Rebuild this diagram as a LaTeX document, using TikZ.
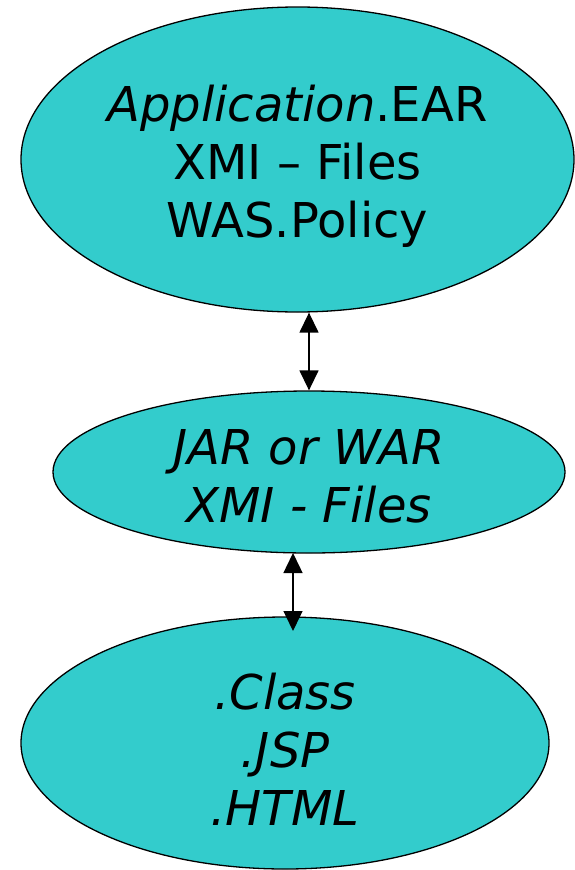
\documentclass[tikz,border=0pt]{standalone}
\usepackage{fontspec}
\setmainfont{DejaVu Sans}
\usetikzlibrary{shapes.geometric,arrows.meta}
\definecolor{tealfill}{HTML}{33CCCC}
\tikzset{
  blob/.style={ellipse,draw=black,line width=1.3pt,fill=tealfill,inner sep=0pt,
    align=center,font=\fontsize{48}{58}\selectfont},
  dblarrow/.style={line width=1.4pt,{Triangle[length=20pt,width=19pt]}-{Triangle[length=20pt,width=19pt]}}
}
\begin{document}
\begin{tikzpicture}[x=1pt,y=-1pt]
                    \useasboundingbox (0,0) rectangle (575,870);

                    % Drawing ellipse of the application archive
                    \node [blob,text height=166pt,minimum width=553pt,minimum height=305pt] (app) at (297.5,159.5)
                      {\textit{Application}.EAR\\XMI -- Files\\WAS.Policy};%

                    % Drawing ellipse of the module archive
                    \node [blob,text height=101pt,minimum width=512pt,minimum height=162pt] (mod) at (309,472)
                      {\itshape JAR or WAR\\\itshape XMI - Files};%

                    % Drawing ellipse of the single files
                    \node [blob,text height=164pt,minimum width=528pt,minimum height=252pt] (src) at (285,743)
                      {\itshape .Class\\\itshape .JSP\\\itshape .HTML};%

                    % Marking ends of the lower connector
                    \coordinate (modfoot) at (293,553);
                    \coordinate (srchead) at (293,631);

                    % Drawing connector app mod
                    \draw [dblarrow] (mod.north |- app.south) -- (mod.north);%

                    % Drawing connector mod src
                    \draw [dblarrow] (modfoot) -- (srchead);%
\end{tikzpicture}
\end{document}
